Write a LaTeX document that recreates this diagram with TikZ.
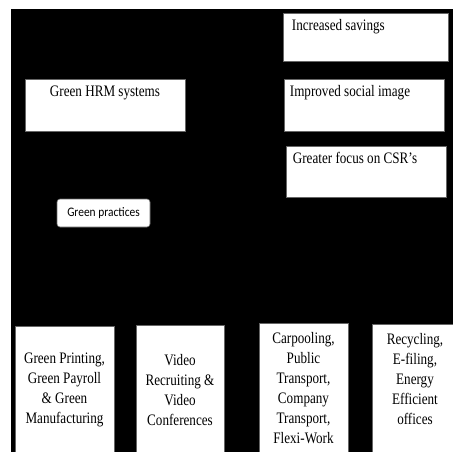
\documentclass[tikz,border=0pt]{standalone}
\usepackage{fontspec}
\setmainfont{Liberation Serif}[FakeStretch=0.82]
\newfontfamily\calfont{Carlito}[FakeStretch=0.88]
\usetikzlibrary{positioning}
\tikzset{
  box/.style={draw=black!60, fill=white, inner sep=0pt, line width=0.6pt},
  ttxt/.style={font=\fontsize{16}{18}\selectfont, inner sep=0pt},
  btxt/.style={font=\fontsize{16}{20}\selectfont, align=center, inner sep=0pt},
}

\begin{document}
\begin{tikzpicture}[x=1pt,y=-1pt]
	\useasboundingbox (0,0) rectangle (453,452);
	\fill[black] (11,9) rectangle (460,460);
	\node[box, minimum width=165pt, minimum height=48pt] (sav) at (365.5,37) {};
	\node[box, minimum width=160pt, minimum height=52pt] (hrm) at (105,105) {};
	\node[box, minimum width=160pt, minimum height=52pt] (soc) at (364,105) {};
	\node[box, minimum width=160pt, minimum height=51pt] (csr) at (366,171.5) {};
	\node[box, rounded corners=3pt, minimum width=93pt, minimum height=28pt, font=\calfont\fontsize{13}{14}\selectfont] (prac) at (103.5,213) {Green practices};
	\node[ttxt, anchor=base west] (savt) at ([xshift=9pt,yshift=-18pt]sav.north west) {Increased savings};
	\node[ttxt, anchor=base] (hrmt) at ([yshift=-18pt]hrm.north) {Green HRM systems};
	\node[ttxt, anchor=base west] (soct) at ([xshift=6pt,yshift=-18pt]soc.north west) {Improved social image};
	\node[ttxt, anchor=base west] (csrt) at ([xshift=7pt,yshift=-18pt]csr.north west) {Greater focus on CSR's};
	\node[box, minimum width=99pt, minimum height=129pt] (print) at (64.5,390.5) {};
	\node[box, minimum width=88pt, minimum height=130pt] (video) at (180,390) {};
	\node[box, minimum width=89pt, minimum height=132pt] (trans) at (303.5,389) {};
	\node[box, minimum width=88pt, minimum height=131pt] (recy) at (416,389.5) {};
	\node[btxt] (printt) at (64.5,390) {Green Printing,\\Green Payroll\\\& Green\\Manufacturing};
	\node[btxt] (videot) at (180,390) {Video\\Recruiting \&\\Video\\Conferences};
	\node[btxt] (transt) at (303.5,388) {Carpooling,\\Public\\Transport,\\Company\\Transport,\\Flexi-Work};
	\node[btxt] (recyt) at (415,379) {Recycling,\\E-filing,\\Energy\\Efficient\\offices};
\end{tikzpicture}
\end{document}
